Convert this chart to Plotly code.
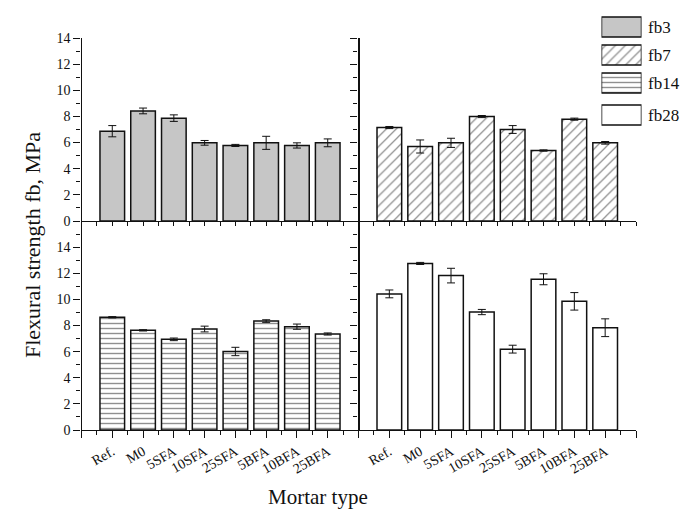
import plotly.graph_objects as go

categories = ["Ref.", "M0", "5SFA", "10SFA", "25SFA", "5BFA", "10BFA", "25BFA"]
series_names = ["fb3", "fb7", "fb14", "fb28"]

fb3 = [6.87, 8.42, 7.87, 5.98, 5.78, 5.98, 5.78, 5.98]
fb3_err = [0.43, 0.22, 0.25, 0.18, 0.08, 0.5, 0.2, 0.3]
fb7 = [7.15, 5.7, 5.98, 7.99, 7.0, 5.39, 7.79, 5.98]
fb7_err = [0.08, 0.5, 0.35, 0.08, 0.3, 0.05, 0.08, 0.1]
fb14 = [8.63, 7.63, 6.94, 7.73, 6.01, 8.34, 7.91, 7.35]
fb14_err = [0.05, 0.05, 0.1, 0.22, 0.32, 0.1, 0.2, 0.08]
fb28 = [10.42, 12.75, 11.82, 9.03, 6.19, 11.54, 9.85, 7.83]
fb28_err = [0.3, 0.08, 0.56, 0.2, 0.3, 0.42, 0.67, 0.68]

W, H = 686, 518
FONT = "Liberation Serif"

def px_x(p):
    return p / W

def px_y(p):
    return 1 - p / H

xpos = list(range(1, len(categories) + 1))

styles = [
    dict(color="#c6c6c6"),
    dict(color="white", pattern=dict(shape="/", size=7, solidity=0.18, fgcolor="#222", bgcolor="white")),
    dict(color="white", pattern=dict(shape="-", size=5, solidity=0.28, fgcolor="#222", bgcolor="white")),
    dict(color="white"),
]
data = [(fb3, fb3_err), (fb7, fb7_err), (fb14, fb14_err), (fb28, fb28_err)]
axes = [("x", "y"), ("x2", "y2"), ("x3", "y3"), ("x4", "y4")]

fig = go.Figure()
for (vals, errs), st, (xa, ya), name in zip(data, styles, axes, series_names):
    marker = dict(st)
    marker["line"] = dict(color="#111", width=1.5)
    fig.add_trace(go.Bar(
        x=xpos, y=vals, width=0.8, name=name, marker=marker,
        error_y=dict(type="data", array=errs, color="#111", thickness=1, width=4),
        xaxis=xa, yaxis=ya, showlegend=False,
    ))

# legend swatches drawn as bars on a hidden axis
legend_centers = [27, 55, 83, 115]
for name, st, yc in zip(series_names, styles, legend_centers):
    marker = dict(st)
    marker["line"] = dict(color="#111", width=1.5)
    fig.add_trace(go.Bar(
        x=[1], y=[yc], width=20, orientation="h", marker=marker,
        xaxis="x5", yaxis="y5", showlegend=False, hoverinfo="skip",
    ))

axis_common = dict(showline=True, linecolor="#111", linewidth=1.3, showgrid=False,
                   zeroline=False, tickcolor="#111", ticks="outside", automargin=False,
                   tickfont=dict(family=FONT, size=14, color="#111"))

xleft = [px_x(81.5), px_x(358.5)]
xright = [px_x(358.5), px_x(636)]
ytop = [px_y(221), px_y(38)]
ybot = [px_y(430), px_y(221)]

def xaxis_def(domain, anchor, labels):
    d = dict(axis_common)
    d.update(domain=domain, anchor=anchor, range=[0, 9],
             tickvals=list(range(0, 10)),
             ticktext=[""] + (categories if labels else [""] * 8) + [""],
             showticklabels=labels, tickangle=-30, ticklen=7, tickwidth=1.2,
             minor=dict(ticks="outside", ticklen=4, tickwidth=1.2, dtick=0.5, tick0=0, tickcolor="#111"))
    return d

def yaxis_def(domain, anchor, rng, labels):
    d = dict(axis_common)
    d.update(domain=domain, anchor=anchor, range=rng,
             tickvals=list(range(0, 15, 2)), showticklabels=labels,
             ticklen=7, tickwidth=1.2,
             minor=dict(ticks="outside", ticklen=4, tickwidth=1.2, dtick=1, tick0=0, tickcolor="#111"))
    return d

fig.update_layout(
    width=W, height=H, autosize=False,
    margin=dict(l=0, r=0, t=0, b=0, pad=0, autoexpand=False),
    showlegend=False,
    paper_bgcolor="white", plot_bgcolor="rgba(0,0,0,0)",
    barmode="overlay",
    xaxis=xaxis_def(xleft, "y", False),
    yaxis=yaxis_def(ytop, "x", [0, 14], True),
    xaxis2=xaxis_def(xright, "y2", False),
    yaxis2=yaxis_def(ytop, "x2", [0, 14], False),
    xaxis3=xaxis_def(xleft, "y3", True),
    yaxis3=yaxis_def(ybot, "x3", [0, 16], True),
    xaxis4=xaxis_def(xright, "y4", True),
    yaxis4=yaxis_def(ybot, "x4", [0, 16], False),
    xaxis5=dict(domain=[px_x(601.5), px_x(641.5)], anchor="y5", range=[0, 1], visible=False,
                fixedrange=True, automargin=False),
    yaxis5=dict(domain=[0, 1], anchor="x5", range=[H, 0], visible=False,
                fixedrange=True, automargin=False),
    font=dict(family=FONT, color="#111"),
)
# left panels' right borders
fig.update_layout(yaxis_mirror=True, yaxis3_mirror=True)

annotations = []
for name, yc in zip(series_names, legend_centers):
    annotations.append(dict(text=name, x=px_x(646), y=px_y(yc), xref="paper", yref="paper",
                            xanchor="left", yanchor="middle", showarrow=False,
                            font=dict(family=FONT, size=17, color="#111")))
annotations.append(dict(text="Flexural strength fb, MPa", x=px_x(32), y=px_y(245),
                        xref="paper", yref="paper", textangle=-90, showarrow=False,
                        xanchor="center", yanchor="middle",
                        font=dict(family=FONT, size=22, color="#111")))
annotations.append(dict(text="Mortar type", x=px_x(318), y=px_y(497),
                        xref="paper", yref="paper", showarrow=False,
                        xanchor="center", yanchor="middle",
                        font=dict(family=FONT, size=21, color="#111")))
fig.update_layout(annotations=annotations)

fig.write_html("out.html",
               config={"displayModeBar": False},
               post_script="document.body.style.margin='0px';document.body.style.overflow='hidden';")
